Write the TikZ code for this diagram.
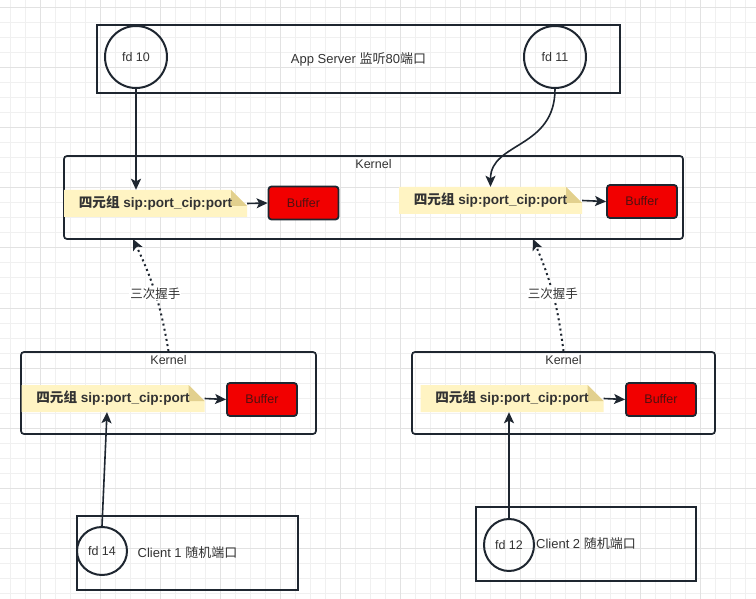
\documentclass[tikz,border=0pt]{standalone}
\usepackage{fontspec}
\setmainfont{Liberation Sans}
\newfontfamily\cjk{Noto Sans CJK SC}
\usetikzlibrary{arrows.meta,shapes.geometric}

\definecolor{gridminor}{RGB}{240,240,240}
\definecolor{gridmajor}{RGB}{226,226,226}
\definecolor{linecol}{RGB}{30,38,48}
\definecolor{txtcol}{RGB}{51,51,51}
\definecolor{notefill}{RGB}{255,244,195}
\definecolor{notefold}{RGB}{226,208,142}
\definecolor{buffred}{RGB}{242,0,0}
\definecolor{bufftxt}{RGB}{80,16,16}

\newcommand{\zh}[1]{{\cjk #1}}

\tikzset{
  hostbox/.style={draw=linecol, line width=2pt, inner sep=0pt, text=txtcol,
    font=\fontsize{13}{15}\selectfont},
  kernelbox/.style={draw=linecol, line width=1.7pt, rounded corners=3pt, inner sep=0pt},
  kerneltitle/.style={anchor=north, inner sep=1.5pt, yshift=-2.5pt, text=txtcol,
    font=\fontsize{12.5}{14}\selectfont},
  fdcircle/.style={ellipse, draw=linecol, line width=2pt, inner sep=0pt, text=txtcol,
    font=\fontsize{12.5}{14}\selectfont},
  tuple/.style={inner sep=0pt, minimum width=183pt, minimum height=27pt, text=txtcol,
    font=\bfseries\fontsize{13.6}{15}\selectfont,
    path picture={
      \fill[notefill] (path picture bounding box.south west)
        -- (path picture bounding box.north west)
        -- ([xshift=-16pt]path picture bounding box.north east)
        -- ([yshift=-16pt]path picture bounding box.north east)
        -- (path picture bounding box.south east) -- cycle;
      \fill[notefold] ([xshift=-16pt]path picture bounding box.north east)
        -- ([xshift=-16pt,yshift=-16pt]path picture bounding box.north east)
        -- ([yshift=-16pt]path picture bounding box.north east) -- cycle;
    }},
  buffbox/.style={draw=linecol, line width=1.8pt, rounded corners=3pt, fill=buffred,
    text=bufftxt, inner sep=0pt, minimum width=70pt, minimum height=33pt,
    font=\fontsize{12.5}{14}\selectfont},
  arr/.style={draw=linecol, line width=1.6pt, -{Stealth[length=11pt,width=10pt,inset=2.5pt]}},
  shake/.style={arr, line width=2pt, dash pattern=on 2pt off 3.2pt},
  shakelabel/.style={fill=white, text=txtcol, inner sep=1pt,
    font=\fontsize{12.5}{14}\selectfont}
}

\begin{document}
\begin{tikzpicture}[x=1pt,y=-1pt]

\useasboundingbox (0,0) rectangle (756,599);
\fill[white] (0,0) rectangle (756,599);

% background grid
\foreach \x in {10,25,...,755}
  \draw[gridminor, line width=1pt] (\x,0) -- (\x,599);
\foreach \y in {8,23,...,598}
  \draw[gridminor, line width=1pt] (0,\y) -- (756,\y);
\foreach \x in {40,100,...,755}
  \draw[gridmajor, line width=1pt] (\x,0) -- (\x,599);
\foreach \y in {8,68,...,598}
  \draw[gridmajor, line width=1pt] (0,\y) -- (756,\y);

%App Server
\node[hostbox, minimum width=523pt, minimum height=68pt] (server) at (358.5,59)
  {App Server \zh{监听}80\zh{端口}};
\node[fdcircle, minimum width=62pt, minimum height=62pt] (fd10) at (136,57) {fd 10};
\node[fdcircle, minimum width=62pt, minimum height=62pt] (fd11) at (555,57) {fd 11};

%Server kernel
\node[kernelbox, minimum width=619pt, minimum height=83pt] (kernelSrv) at (373.5,197.5) {};
\node[kerneltitle] (kernelSrvTitle) at (kernelSrv.north) {Kernel};
\node[tuple] (tupleSrvA) at (155.5,203.5) {\zh{四元组} sip:port\_cip:port};
\node[buffbox] (bufSrvA) at (303.5,203) {Buffer};
\node[tuple] (tupleSrvB) at (490.5,200.5) {\zh{四元组} sip:port\_cip:port};
\node[buffbox] (bufSrvB) at (642,201.5) {Buffer};

%Client kernels
\node[kernelbox, minimum width=295pt, minimum height=82pt] (kernelCl1) at (168.5,393) {};
\node[kerneltitle] (kernelCl1Title) at (kernelCl1.north) {Kernel};
\node[tuple] (tupleCl1) at (113,398.5) {\zh{四元组} sip:port\_cip:port};
\node[buffbox] (bufCl1) at (262,399.5) {Buffer};

\node[kernelbox, minimum width=303pt, minimum height=82pt] (kernelCl2) at (563.5,393) {};
\node[kerneltitle] (kernelCl2Title) at (kernelCl2.north) {Kernel};
\node[tuple] (tupleCl2) at (512,398.5) {\zh{四元组} sip:port\_cip:port};
\node[buffbox] (bufCl2) at (661,399.5) {Buffer};

%Clients
\node[hostbox, minimum width=221pt, minimum height=74pt] (client1) at (187.5,553)
  {Client 1 \zh{随机端口}};
\node[fdcircle, minimum width=50pt, minimum height=48pt] (fd14) at (102,551) {fd 14};
\node[hostbox, minimum width=220pt, minimum height=74pt] (client2) at (586,544)
  {Client 2 \zh{随机端口}};
\node[fdcircle, minimum width=50pt, minimum height=52pt] (fd12) at (509,545) {fd 12};

\coordinate (synA) at (133,239);
\coordinate (synB) at (533,239);

% connectors
\draw[arr] (fd10.south) -- (fd10.south |- tupleSrvA.north);
\draw[arr] (fd11.south) .. controls +(0,60) and +(0,-45) .. (tupleSrvB.north);
\draw[arr] (tupleSrvA.east) -- (bufSrvA.west);
\draw[arr] (tupleSrvB.east) -- (bufSrvB.west);
\draw[arr] (tupleCl1.east) -- (bufCl1.west);
\draw[arr] (tupleCl2.east) -- (bufCl2.west);
\draw[arr] (fd14.north) -- ([xshift=-6pt]tupleCl1.south);
\draw[arr] (fd12.north) -- (fd12.north |- tupleCl2.south);

% handshake
\draw[shake] (kernelCl1.north) to[bend right=8]
  node[shakelabel] (shakeA) {\zh{三次握手}} (synA);
\draw[shake] (kernelCl2.north) to[bend right=8]
  node[shakelabel] (shakeB) {\zh{三次握手}} (synB);

\end{tikzpicture}
\end{document}
